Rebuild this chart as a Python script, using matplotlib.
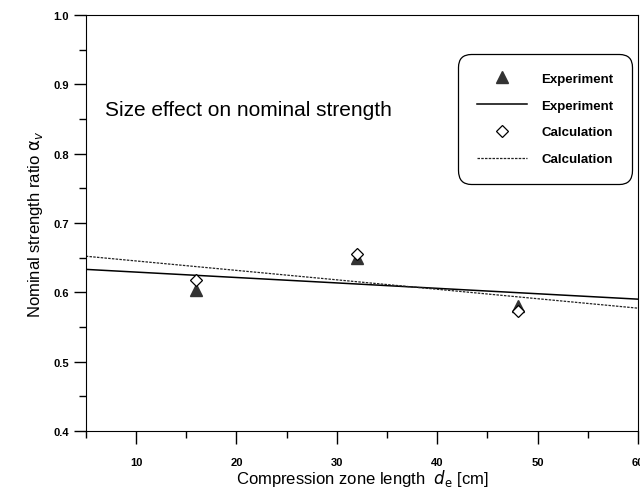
import matplotlib
matplotlib.use("Agg")
import matplotlib.pyplot as plt
from matplotlib.ticker import MultipleLocator

plt.rcParams['font.family'] = ['Liberation Sans', 'DejaVu Sans']

# data
depth = [16, 32, 48]
exp_ratio = [0.603, 0.650, 0.580]
calc_ratio = [0.617, 0.655, 0.573]

fit_x = [5, 60]
exp_fit = [0.633, 0.590]
calc_fit = [0.652, 0.577]

fig = plt.figure(figsize=(6.4, 4.89), dpi=100)
ax = fig.add_axes([0.134, 0.117, 0.863, 0.85])

ax.plot(depth, exp_ratio, linestyle='none', marker='^', markersize=8,
        color='#333333', label='Experiment')
ax.plot(fit_x, exp_fit, '-', color='black', lw=1.1, label='Experiment')
ax.plot(depth, calc_ratio, linestyle='none', marker='D', markersize=6,
        markerfacecolor='white', markeredgecolor='black', markeredgewidth=0.9,
        label='Calculation')
ax.plot(fit_x, calc_fit, linestyle=(0, (2, 1)), color='#222222', lw=0.9,
        label='Calculation')

ax.set_xlim(5, 60)
ax.set_ylim(0.4, 1.0)
ax.xaxis.set_major_locator(MultipleLocator(10))
ax.xaxis.set_minor_locator(MultipleLocator(5))
ax.yaxis.set_major_locator(MultipleLocator(0.1))
ax.yaxis.set_minor_locator(MultipleLocator(0.05))
ax.tick_params(which='major', direction='out', length=9, width=1,
               labelsize=8)
ax.tick_params(which='minor', direction='out', length=5, width=1)
ax.tick_params(axis='x', pad=10)
ax.tick_params(axis='y', pad=3)
for lab in ax.get_xticklabels() + ax.get_yticklabels():
    lab.set_fontweight('bold')

ax.set_xlabel(r'Compression zone length  $d_{\mathrm{e}}$ [cm]', fontsize=12,
              labelpad=0)
ax.set_ylabel(r'Nominal strength ratio $\mathrm{\alpha}_v$', fontsize=12,
              labelpad=6)

ax.text(0.034, 0.772, 'Size effect on nominal strength', transform=ax.transAxes,
        fontsize=15, va='center', ha='left')

leg = ax.legend(loc='upper right', bbox_to_anchor=(0.989, 0.906),
                bbox_transform=ax.transAxes, borderaxespad=0,
                fancybox=True, edgecolor='black', framealpha=1,
                handlelength=3.8, borderpad=1.4, labelspacing=1.1,
                handletextpad=1.1,
                prop={'size': 9.5, 'weight': 'bold'})
leg.get_frame().set_linewidth(0.9)
leg.get_frame().set_boxstyle('round', pad=0, rounding_size=1.0)

fig.savefig('out.png', dpi=100)
